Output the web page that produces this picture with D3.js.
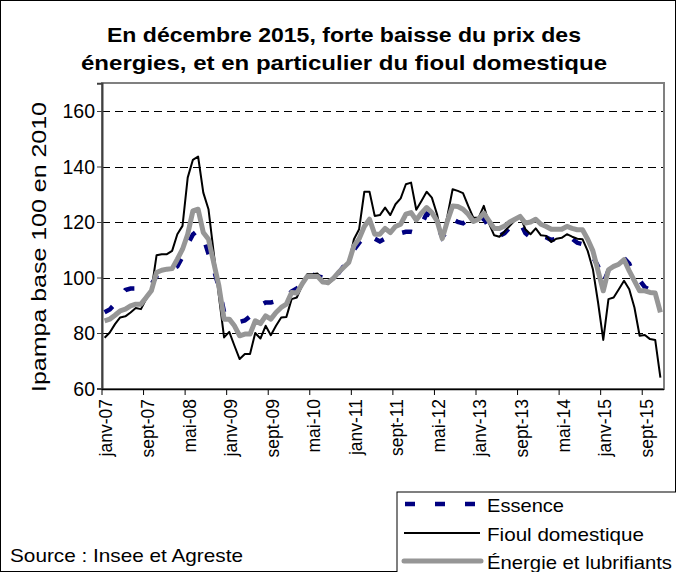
<!DOCTYPE html>
<html><head><meta charset="utf-8">
<script src="https://cdn.jsdelivr.net/npm/d3@7"></script>
<style>body{margin:0;background:#fff}svg{display:block}text{font-family:"Liberation Sans",Arial,sans-serif}</style>
</head><body>
<svg id="c" width="676" height="572"></svg>
<script>
const monthNames = ["janv","févr","mars","avr","mai","juin","juil","août","sept","oct","nov","déc"];
const years = ["07","08","09","10","11","12","13","14","15"];
const months = [];
years.forEach(y => monthNames.forEach(m => months.push(m + "-" + y)));

const essence = [87.5,88.5,90.5,93,95.5,96,96,95.5,96.5,97.5,100.5,101.5,
102.5,103,104,107.5,112,115.5,117,114.5,108.5,103,96.5,87.5,
85.5,84.5,84,84.5,86,88.5,90,91,91,91.5,92,92.5,
95,96,98,100.5,101,100.5,100,98.5,99.5,101.5,104,106,
110,112.5,114.5,116,114,113,114,114,115,116,116.5,116.5,
116,119,123,122,119,114.5,117,121,120,119.5,121,120,
119.5,121.5,118,115.5,115,116,118,119.5,120,116,114.5,116,
115,114.5,113.5,114,114,115,114,112.5,112,109,107.5,104,
98,102.5,104,105,107,105,100,99,96.5,95.5,95,94];
const fioul = [78.3,80.2,83.2,85.6,86,87.4,89,88.6,92.2,95.2,108,108.4,
108.4,109.6,115.6,118.6,136,142.4,143.6,130.6,124.6,109,93.4,78.4,
80.4,75.4,70.6,72.4,72.4,80,78,82.6,79.2,82.6,85.6,85.8,
92.2,92.8,97,101.2,101.2,101.4,98.8,97.6,99.4,101.8,103.6,105.4,
113.8,117.4,130.9,130.9,122.2,122.5,125.2,122.5,126.4,128.5,133.6,134.2,
124.4,127.6,130.9,128.8,122.8,114,122.2,131.8,131.2,130.4,125.8,121.5,
121.5,125.8,119.5,115.2,114.7,116.6,118.6,120.6,122,117.4,115.6,117.7,
115.2,115,112.8,114,114.3,115.6,114.7,114,113.8,109.6,103,91,
77.5,92.2,92.8,95.8,98.8,95.8,89.2,79,79.3,77.8,77.5,63.9];
const energie = [84.4,85,86.4,88,88.6,89.8,90.4,90.4,92.8,95.2,101.8,102.6,
103,103.2,106.6,110.2,115.6,124,124.6,116.2,113.8,105.4,97,85,
85,82.6,79,79.6,79.6,84.4,83.4,86.2,85,87.4,89.2,90.4,
94.6,94.4,97.6,100.4,100.4,100.4,98.4,98.2,99.6,101.8,103.6,105.4,
111.4,114,118.4,121,115.6,115.6,117.7,116.2,118.4,119.2,122.8,123.4,
120.7,123.2,125.2,123.4,120.4,114,120.4,125.8,125.6,124.6,122.8,120.2,
121,123.2,120.4,117.7,117.7,118.6,120,121,122,119.6,120,121,
119.2,118.4,117.4,117.4,117.4,118.4,117.7,117.2,117.2,113.8,109.6,102.4,
95.2,102.8,104,104.8,106.4,102.4,98.8,95.2,95.2,94.6,94.4,87.4];
const yTicks = [60,80,100,120,140,160];
const gridValues = [80,100,120,140,160];
const xTickLabels = ["janv-07","sept-07","mai-08","janv-09","sept-09","mai-10","janv-11","sept-11","mai-12","janv-13","sept-13","mai-14","janv-15","sept-15"];
const titleLines = ["En décembre 2015, forte baisse du prix des","énergies, et en particulier du fioul domestique"];
const yTitle = "Ipampa base 100 en 2010";
const sourceText = "Source : Insee et Agreste";
const legendItems = ["Essence","Fioul domestique","Énergie et lubrifiants"];

const svg = d3.select("#c");
svg.append("rect").attr("x",0.5).attr("y",0.5).attr("width",675).attr("height",571).attr("fill","#fff").attr("stroke","#000");

const L = 102, R = 663, T = 83, B = 389;
const x = d3.scaleBand().domain(months).range([L, R]).padding(0);
const y = d3.scaleLinear().domain([60, 170]).range([388.5, 83.25]);
const cx = d => x(d) + x.bandwidth()/2;

// gridlines
svg.append("g").selectAll("line").data(gridValues).join("line")
  .attr("x1",L).attr("x2",R).attr("y1",d=>Math.round(y(d))+0.5).attr("y2",d=>Math.round(y(d))+0.5)
  .attr("stroke","#000").attr("stroke-width",1).attr("stroke-dasharray","8,5");

// plot frame
svg.append("rect").attr("x",L).attr("y",T).attr("width",R-L+1).attr("height",B-T)
  .attr("fill","none").attr("stroke","#808080").attr("stroke-width",2);

// y axis
const yAxis = d3.axisLeft(y).tickValues(yTicks).tickSize(5).tickFormat(d3.format("d"));
const gy = svg.append("g").attr("transform",`translate(${L},0)`).call(yAxis);
gy.select(".domain").attr("stroke","#404040").attr("stroke-width",2);
gy.selectAll(".tick line").attr("stroke","#404040");
gy.selectAll(".tick text").attr("font-size","19.5px").attr("fill","#000").attr("x",-7).attr("dy","0.35em")
  .style("font-family",'"Liberation Sans",Arial,sans-serif');

// x axis ticks (between categories every 8 months)
const tickIdx = d3.range(0, months.length, 8);
svg.append("g").selectAll("line").data(tickIdx).join("line")
  .attr("x1",i=>x(months[i])).attr("x2",i=>x(months[i])).attr("y1",B).attr("y2",B+6)
  .attr("stroke","#000").attr("stroke-width",1);
svg.append("line").attr("x1",L).attr("x2",R+1).attr("y1",B+0.5).attr("y2",B+0.5).attr("stroke","#000").attr("stroke-width",1.5);
svg.append("g").selectAll("text").data(tickIdx).join("text")
  .attr("transform",(i,k)=>`translate(${cx(months[i])+1.5},399) rotate(-90)`)
  .attr("text-anchor","end").attr("dy","0.36em").attr("font-size","17.5px")
  .text((i,k)=>xTickLabels[k]);

// lines
const line = d3.line().x((d,i)=>cx(months[i])).y(d=>y(d));
svg.append("path").datum(essence).attr("d",line).attr("fill","none").attr("stroke","#000080")
  .attr("stroke-width",4.5).attr("stroke-dasharray","10,20");
svg.append("path").datum(fioul).attr("d",line).attr("fill","none").attr("stroke","#000")
  .attr("stroke-width",2).attr("stroke-linejoin","round");
svg.append("path").datum(energie).attr("d",line).attr("fill","none").attr("stroke","#969696")
  .attr("stroke-width",5).attr("stroke-linejoin","round");

// title
const titleW = [474, 526];
svg.append("g").selectAll("text").data(titleLines).join("text")
  .attr("x",344).attr("y",(d,i)=>42+i*28).attr("text-anchor","middle")
  .attr("font-size","20.5px").attr("font-weight","bold")
  .attr("textLength",(d,i)=>titleW[i]).attr("lengthAdjust","spacingAndGlyphs").text(d=>d);

// y title
svg.append("text").attr("transform","translate(46,247) rotate(-90)").attr("text-anchor","middle")
  .attr("font-size","21px").attr("textLength",290).attr("lengthAdjust","spacingAndGlyphs").text(yTitle);

// source
svg.append("text").attr("x",10).attr("y",562).attr("font-size","19px")
  .attr("textLength",233).attr("lengthAdjust","spacingAndGlyphs").text(sourceText);

// legend
svg.append("rect").attr("x",397).attr("y",492).attr("width",300).attr("height",100).attr("fill","#fff").attr("stroke","#000");
const lg = svg.append("g");
const ly = [504,533,561];
const legW = [77, 157, 185];
lg.append("line").attr("x1",405).attr("x2",480).attr("y1",ly[0]).attr("y2",ly[0]).attr("stroke","#000080").attr("stroke-width",4.5).attr("stroke-dasharray","10,20");
lg.append("line").attr("x1",404).attr("x2",480).attr("y1",ly[1]).attr("y2",ly[1]).attr("stroke","#000").attr("stroke-width",2);
lg.append("line").attr("x1",404).attr("x2",481).attr("y1",ly[2]).attr("y2",ly[2]).attr("stroke","#969696").attr("stroke-width",5).attr("stroke-linecap","round");
lg.selectAll("text").data(legendItems).join("text").attr("x",487).attr("y",(d,i)=>ly[i]+7.5)
  .attr("font-size","19px").attr("textLength",(d,i)=>legW[i]).attr("lengthAdjust","spacingAndGlyphs").text(d=>d);
</script>
</body></html>
